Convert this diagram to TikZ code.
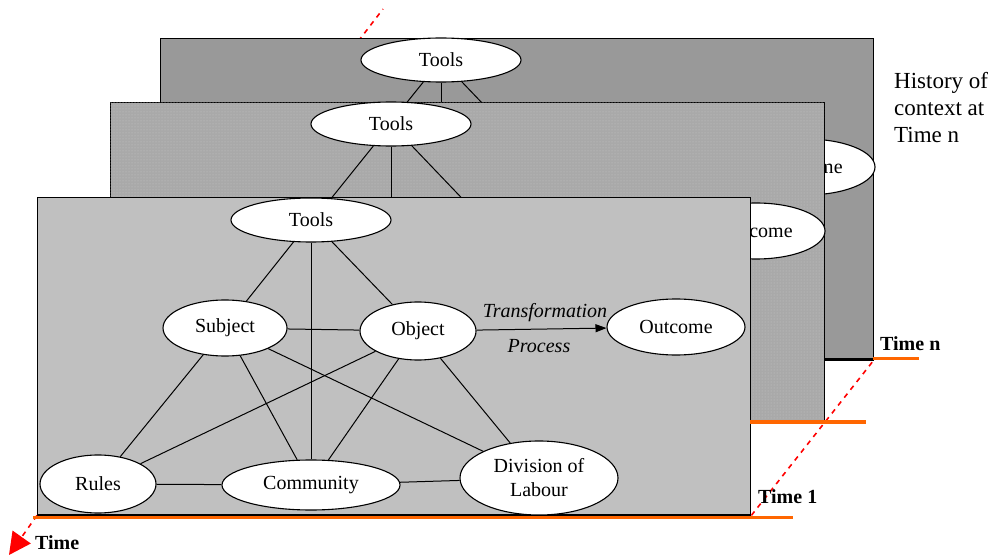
\documentclass[tikz,border=0pt]{standalone}
\usepackage{fontspec}
\setmainfont{Liberation Serif}
\usetikzlibrary{shapes.geometric,arrows.meta,backgrounds,patterns}
\definecolor{backgray}{HTML}{999999}
\definecolor{midgray}{HTML}{A9A9A9}
\definecolor{middots}{HTML}{C6C6C6}
\definecolor{frontgray}{HTML}{C0C0C0}
\definecolor{timeorange}{HTML}{FF6600}
\definecolor{timered}{HTML}{FF0000}
\tikzset{
  actnode/.style={ellipse, draw=black, line width=1.1pt, fill=white, inner sep=0pt,
    font=\fontsize{20}{24}\selectfont, align=center},
  toolsnode/.style={actnode, minimum width=160pt, minimum height=44pt},
  outcomenode/.style={actnode, minimum width=138pt, minimum height=56pt},
  actedge/.style={draw=black, line width=1pt},
  transarrow/.style={actedge, -{Triangle[length=11pt,width=8pt]}},
  translabel/.style={inner sep=0pt, font=\itshape\fontsize{20}{24}\selectfont},
  panelbox/.style={rectangle, draw=black, line width=1.4pt, anchor=north west, inner sep=0pt},
  timedash/.style={draw=timered, line width=1.6pt, dash pattern=on 5pt off 5pt},
  orangeline/.style={draw=timeorange, line width=3.5pt},
  timelabel/.style={inner sep=0pt, anchor=base west, font=\bfseries\fontsize{20}{24}\selectfont},
}
% the part of an earlier activity system that stays visible behind the next panel
\newcommand\actlayer[2]{%
  \begin{scope}[shift={#2}]
    \node[toolsnode] (#1tools) at (311,220) {Tools};
    \node[outcomenode] (#1outcome) at (676,327) {Outcome};
    \coordinate (#1subject) at (225,327);
    \coordinate (#1object) at (418,332);
    \coordinate (#1community) at (311,485);
    \draw[actedge] (#1tools) -- (#1subject);
    \draw[actedge] (#1tools) -- (#1object);
    \draw[actedge] (#1tools) -- (#1community);
  \end{scope}}
\begin{document}
\begin{tikzpicture}[x=1pt,y=-1pt]
\useasboundingbox (0,0) rectangle (999,556);
% back panel (Time n)
\node[panelbox, fill=backgray, minimum width=713pt, minimum height=320pt] (back) at (160,38) {};
\draw[line width=3.5pt] (back.south west) -- (back.south east);
\actlayer{b}{(130,-160)}
% middle panel
\node[panelbox, fill=midgray, minimum width=714pt, minimum height=319pt,
  postaction={pattern=dots, pattern color=middots}] (mid) at (110,102) {};
\actlayer{m}{(80,-96)}
% front panel (Time 1)
\node[panelbox, fill=frontgray, minimum width=713pt, minimum height=317pt] (front) at (37,197) {};
\draw[line width=2pt] (front.south west) -- (front.south east);
\node[toolsnode] (ftools) at (311,220) {Tools};
\node[actnode, minimum width=124pt, minimum height=56pt] (fsubject) at (225,328) {Subject};
\node[actnode, minimum width=116pt, minimum height=58pt] (fobject) at (418,331) {Object};
\node[outcomenode] (foutcome) at (676,327) {Outcome};
\node[actnode, minimum width=116pt, minimum height=58pt] (frules) at (98,484) {Rules};
\node[actnode, minimum width=178pt, minimum height=50pt] (fcommunity) at (311,485) {Community};
\node[actnode, minimum width=158pt, minimum height=74pt] (fdivision) at (539,478) {Division of\\Labour};
\node[translabel] (ftransf) at (545,313) {Transformation};
\node[translabel] (fprocess) at (539,346) {Process};
\draw[actedge] (ftools) -- (fsubject);
\draw[actedge] (ftools) -- (fobject);
\draw[actedge] (ftools) -- (fcommunity);
\draw[actedge] (fsubject) -- (fobject);
\draw[actedge] (fsubject) -- (frules);
\draw[actedge] (fsubject) -- (fcommunity);
\draw[actedge] (fsubject) -- (fdivision);
\draw[actedge] (fobject) -- (frules);
\draw[actedge] (fobject) -- (fcommunity);
\draw[actedge] (fobject) -- (fdivision);
\draw[actedge] (frules) -- (fcommunity);
\draw[actedge] (fcommunity) -- (fdivision);
\draw[transarrow] (fobject) -- (foutcome);
% time axes
\coordinate (topstart) at (340,65);
\coordinate (topend) at (383,9);
\coordinate (timetip) at (9,555);
\begin{scope}[on background layer]
  \draw[timedash] (front.south east) -- (back.south east);
  \draw[timedash] (topstart) -- (topend);
\end{scope}
\draw[timedash, -{Triangle[length=22pt,width=22pt]}] (front.south west) -- (timetip);
% orange base lines
\coordinate (o1a) at (33,517.5);
\coordinate (o1b) at (793,517.5);
\coordinate (o2a) at (750,422);
\coordinate (o2b) at (866,422);
\coordinate (o3a) at (873,358.5);
\coordinate (o3b) at (919,358.5);
\draw[orangeline] (o1a) -- (o1b);
\draw[orangeline] (o2a) -- (o2b);
\draw[orangeline] (o3a) -- (o3b);
% labels
\node[timelabel] (timen) at (880,350) {Time n};
\node[timelabel] (timeone) at (758,503) {Time 1};
\node[timelabel] (timeaxis) at (35,549) {Time};
\node[anchor=north west, align=left, inner sep=0pt, font=\fontsize{23}{27}\selectfont]
  (history) at (894,72) {History of\\context at\\Time n};
\end{tikzpicture}
\end{document}
